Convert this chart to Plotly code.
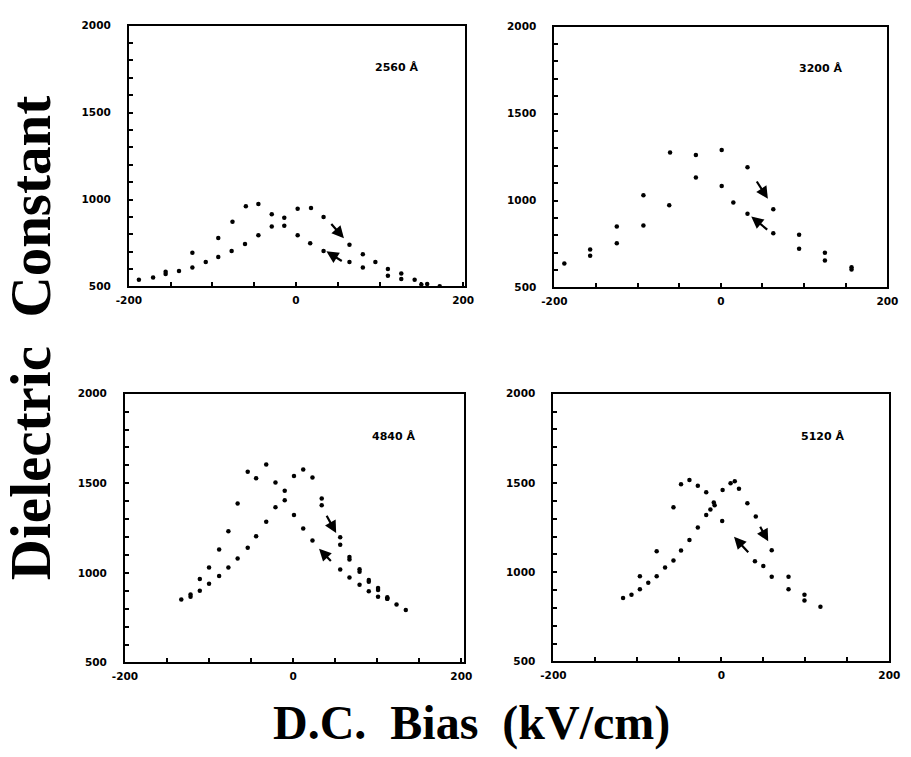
import plotly.graph_objects as go

# ---------------- data (D.C. bias kV/cm, dielectric constant) ----------------
labels = ["2560 Å", "3200 Å", "4840 Å", "5120 Å"]

p1_up_x = [-188, -171, -156, -140, -124, -108, -93, -77, -61, -45, -29, -14, 2, 18, 33, 64, 80, 95, 110, 126, 142, 150, 157, 172]
p1_up_y = [538, 551, 572, 589, 609, 641, 670, 704, 745, 794, 845, 896, 947, 951, 900, 740, 685, 641, 600, 575, 538, 512, 514, 502]
p1_dn_x = [126, 110, 80, 64, 33, 17, 2, -14, -29, -45, -60, -76, -93, -124, -156]
p1_dn_y = [543, 562, 609, 641, 704, 749, 794, 849, 915, 975, 962, 872, 779, 694, 584]

p2_up_x = [-188, -157, -125, -93, -62, -30, 1, 32, 63, 94, 125, 157]
p2_up_y = [638, 682, 755, 856, 973, 1132, 1291, 1192, 950, 803, 700, 604]
p2_dn_x = [157, 125, 94, 63, 32, 15, 1, -30, -61, -93, -125, -157]
p2_dn_y = [616, 655, 723, 812, 924, 988, 1083, 1262, 1277, 1031, 850, 719]

p3_up_x = [-133, -122, -111, -100, -88, -77, -66, -54, -44, -32, -21, -10, 1, 12, 23, 34, 34, 56, 56,
           67, 67, 79, 79, 90, 90, 101, 101, 112, 112, 123, 134]
p3_up_y = [851, 866, 900, 939, 983, 1030, 1080, 1140, 1204, 1285, 1367, 1458, 1541, 1577, 1533, 1415, 1378, 1199, 1157,
           1088, 1074, 1020, 1006, 960, 950, 915, 905, 864, 856, 824, 793]
p3_dn_x = [112, 101, 90, 79, 67, 56, 23, 12, 1, -10, -21, -32, -44, -54, -66, -77, -88, -100, -111, -122]
p3_dn_y = [856, 866, 897, 934, 974, 1019, 1180, 1248, 1323, 1405, 1504, 1605, 1528, 1565, 1387, 1232, 1131, 1030, 966, 879]

p4_up_x = [-117, -107, -97, -87, -77, -67, -57, -48, -38, -28, -18, -13, -9, 1.5, 11, 16, 21, 31, 41, 60, 80, 99, 118]
p4_up_y = [855, 873, 904, 941, 978, 1026, 1066, 1121, 1180, 1250, 1320, 1351, 1390, 1461, 1498, 1509, 1467, 1386, 1312, 1123, 974, 873, 807]
p4_dn_x = [99, 80, 60, 50, 40, 1, -8, -18, -28, -38, -48, -57, -77, -97]
p4_dn_y = [842, 904, 974, 1035, 1062, 1287, 1375, 1448, 1485, 1517, 1493, 1364, 1118, 978]

# sweep-direction arrows: (x_tail, y_tail, x_head, y_head)
arrows = [
    [(40.7, 868, 57.4, 777), (56.6, 641, 36.4, 702)],
    [(42.0, 1118, 56.5, 1010), (57.5, 826, 36.5, 908)],
    [(38.9, 1327, 51.2, 1222), (46.6, 1058, 30.8, 1135)],
    [(45.3, 1263, 55.8, 1173), (33.7, 1103, 15.1, 1198)],
]

x_ticks = [-200, 0, 200]
x_ticktext = ["-200", "0", "200"]
y_ticks = [500, 1000, 1500, 2000]

series = [
    (p1_up_x, p1_up_y, p1_dn_x, p1_dn_y),
    (p2_up_x, p2_up_y, p2_dn_x, p2_dn_y),
    (p3_up_x, p3_up_y, p3_dn_x, p3_dn_y),
    (p4_up_x, p4_up_y, p4_dn_x, p4_dn_y),
]

# ---------------- layout ----------------
W, H = 911, 757
boxes = [(119, 464, 20, 285), (556, 898, 21, 286), (115, 463, 394, 667), (555, 900, 394, 666)]
xranges = [[-200, 202], [-200, 200], [-200, 203], [-200, 200]]

fig = go.Figure()
tickfont = dict(family="DejaVu Sans", size=10.5, color="black", weight="bold")
layout = dict(
    width=W, height=H, margin=dict(l=0, r=0, t=0, b=0),
    paper_bgcolor="white", plot_bgcolor="white", showlegend=False,
)
annotations = []
for i, (ux, uy, dx, dy) in enumerate(series):
    n = "" if i == 0 else str(i + 1)
    xa, ya = "x" + n, "y" + n
    l, r, t, b = boxes[i]
    for xs, ys, name in ((ux, uy, "increasing bias"), (dx, dy, "decreasing bias")):
        fig.add_trace(go.Scatter(x=xs, y=ys, mode="markers", name=name, xaxis=xa, yaxis=ya,
                                 marker=dict(color="black", size=4.5)))
    common = dict(showline=True, mirror=True, linecolor="black", linewidth=2, showgrid=False,
                  zeroline=False, ticks="inside", ticklen=4, tickwidth=1.5, tickcolor="black",
                  tickfont=tickfont)
    layout["xaxis" + n] = dict(common, domain=[l / W, r / W], range=xranges[i], anchor=ya,
                               tickmode="array", tickvals=x_ticks, ticktext=x_ticktext,
                               ticklabelstandoff=3,
                               minor=dict(tickmode="array", tickvals=[-150, -100, -50, 50, 100, 150],
                                          ticks="inside", ticklen=4, tickwidth=1.5, tickcolor="black"))
    layout["yaxis" + n] = dict(common, domain=[1 - b / H, 1 - t / H], range=[500, 2000], anchor=xa,
                               tickmode="array", tickvals=y_ticks, ticklabelstandoff=14,
                               minor=dict(tickmode="array",
                                          tickvals=[600, 700, 800, 900, 1100, 1200, 1300, 1400,
                                                    1600, 1700, 1800, 1900],
                                          ticks="inside", ticklen=4, tickwidth=1.5, tickcolor="black"))
    annotations.append(dict(x=92, y=1760, xref=xa, yref=ya, text=labels[i], showarrow=False,
                            xanchor="left", yanchor="middle",
                            font=dict(family="DejaVu Sans", size=11, color="black", weight="bold")))
    for (x0, y0, x1, y1) in arrows[i]:
        annotations.append(dict(x=x1, y=y1, ax=x0, ay=y0, xref=xa, yref=ya, axref=xa, ayref=ya,
                                text="", showarrow=True, arrowhead=2, arrowsize=1.1,
                                arrowwidth=2.2, arrowcolor="black"))

annotations.append(dict(x=0, y=1 - 338 / H, xref="paper", yref="paper", text="<b>Dielectric  Constant</b>",
                        textangle=-90, showarrow=False, xanchor="left", yanchor="middle", xshift=-16,
                        font=dict(family="Liberation Serif", size=57, color="black")))
annotations.append(dict(x=471 / W, y=1 - 729 / H, xref="paper", yref="paper", text="<b>D.C.  Bias  (kV/cm)</b>",
                        showarrow=False, xanchor="center", yanchor="middle",
                        font=dict(family="Liberation Serif", size=48, color="black")))
layout["annotations"] = annotations
fig.update_layout(**layout)
fig.write_html("out.html")
